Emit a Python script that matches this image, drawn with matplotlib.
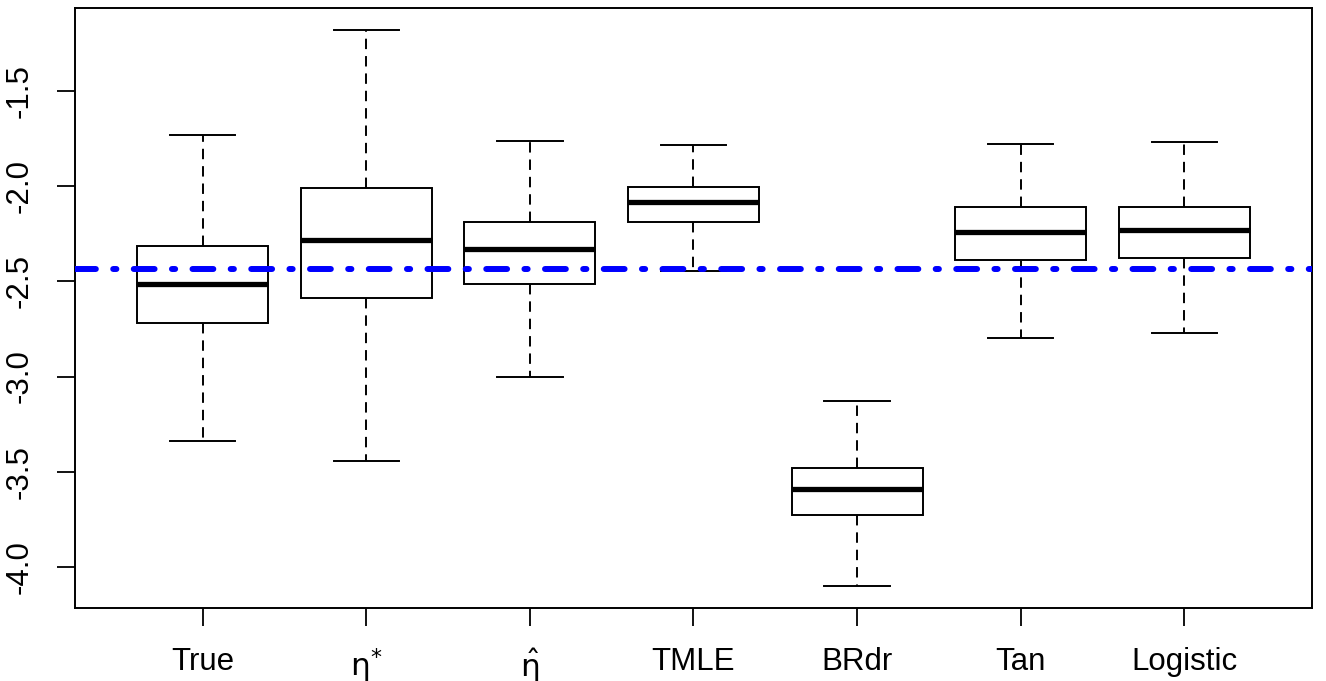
import matplotlib
matplotlib.use("Agg")
import matplotlib.pyplot as plt

# ---- data ----
categories = ["True", r"$\mathrm{\eta}^{*}$", r"$\hat{\mathrm{\eta}}$", "TMLE", "BRdr", "Tan", "Logistic"]
whisker_low = [-3.340, -3.444, -3.005, -2.445, -4.099, -2.797, -2.773]
q1          = [-2.720, -2.588, -2.515, -2.187, -3.728, -2.389, -2.375]
medians     = [-2.512, -2.281, -2.332, -2.084, -3.592, -2.243, -2.231]
q3          = [-2.313, -2.011, -2.189, -2.005, -3.479, -2.108, -2.108]
whisker_high= [-1.731, -1.181, -1.762, -1.782, -3.130, -1.781, -1.767]
reference_value = -2.436
y_ticks = [-4.0, -3.5, -3.0, -2.5, -2.0, -1.5]
y_ticklabels = ["-4.0", "-3.5", "-3.0", "-2.5", "-2.0", "-1.5"]

plt.rcParams["font.family"] = ["Liberation Sans", "DejaVu Sans"]
plt.rcParams["mathtext.fontset"] = "dejavusans"
plt.rcParams["lines.scale_dashes"] = False

fig = plt.figure(figsize=(13.26, 6.81), dpi=100)
ax = fig.add_axes([75/1326, 1-608/681, (1312-75)/1326, 600/681])

stats = []
for i in range(len(categories)):
    stats.append(dict(med=medians[i], q1=q1[i], q3=q3[i],
                      whislo=whisker_low[i], whishi=whisker_high[i],
                      fliers=[], label=categories[i]))

positions = list(range(1, len(categories) + 1))
ax.bxp(stats, positions=positions, widths=0.8, showfliers=False, patch_artist=True,
       boxprops=dict(facecolor="white", edgecolor="black", linewidth=1.4),
       medianprops=dict(color="black", linewidth=3.8, solid_capstyle="butt"),
       whiskerprops=dict(color="black", linewidth=1.4, linestyle=(0, (7.5, 5))),
       capprops=dict(color="black", linewidth=1.4),
       capwidths=0.4, zorder=2)

ax.axhline(reference_value, color="#0000ff", linewidth=4.3,
           linestyle=(0, (15, 12.5, 2.3, 12.5)), dash_capstyle="round", zorder=5)

n = len(categories)
ax.set_xlim(0.5 - 0.28, n + 0.5 + 0.28)
dmin = min(whisker_low); dmax = max(whisker_high)
r = dmax - dmin
ax.set_ylim(dmin - 0.04 * r, dmax + 0.04 * r)

ax.set_xticks(positions)
ax.set_xticklabels(categories)
ax.set_yticks(y_ticks)
ax.set_yticklabels(y_ticklabels, rotation=90, va="center")

ax.tick_params(axis="both", length=13, width=1.3, labelsize=22.5, color="black")
ax.tick_params(axis="x", pad=15)
ax.tick_params(axis="y", pad=16)
for sp in ax.spines.values():
    sp.set_linewidth(1.4)

fig.savefig("out.png", dpi=100)
